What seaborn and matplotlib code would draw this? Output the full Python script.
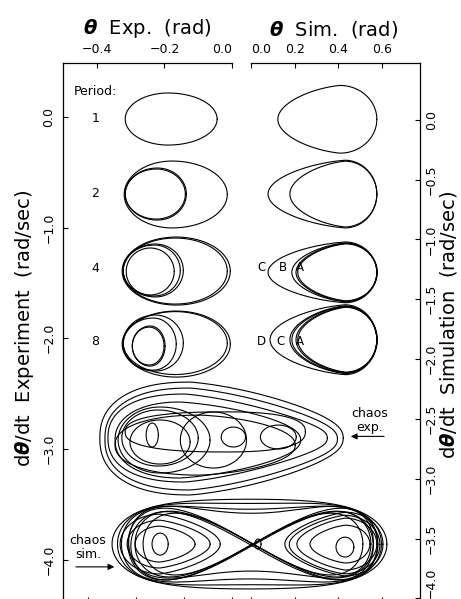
import numpy as np
import matplotlib
matplotlib.use("Agg")
import matplotlib.pyplot as plt
import seaborn as sns

sns.set_theme(style="white")
plt.rcParams["font.family"] = ["DejaVu Sans"]
plt.rcParams["mathtext.fontset"] = "dejavusans"
for k in ("text.color", "axes.labelcolor", "xtick.color", "ytick.color", "axes.edgecolor"):
    plt.rcParams[k] = "black"

# ---------------- data ----------------
# axis ticks
exp_xticks = [-0.4, -0.2, 0.0]
exp_xlabels = ["\u22120.4", "\u22120.2", "0.0"]
exp_bottom_ticks = [-0.426, -0.284, -0.142, 0.0]
exp_yticks = [0.0, -1.0, -2.0, -3.0, -4.0]
exp_ylabels = ["0.0", "\u22121.0", "\u22122.0", "\u22123.0", "\u22124.0"]
sim_xticks = [0.0, 0.2, 0.4, 0.6]
sim_xlabels = ["0.0", "0.2", "0.4", "0.6"]
sim_yticks = [0.0, -0.5, -1.0, -1.5, -2.0, -2.5, -3.0, -3.5, -4.0]
sim_ylabels = ["0.0", "\u22120.5", "\u22121.0", "\u22121.5", "\u22122.0",
               "\u22122.5", "\u22123.0", "\u22123.5", "\u22124.0"]

# periodic orbits, experiment (theta centre, omega centre, left/right half-width, half-height)
exp_cx = [-0.189, -0.177, -0.221, -0.224, -0.165, -0.168, -0.227, -0.230, -0.242,
          -0.165, -0.168, -0.227, -0.233, -0.242, -0.245]
exp_cy = [-0.021, -0.702, -0.698, -0.698, -1.393, -1.393, -1.388, -1.388, -1.397,
          -2.052, -2.043, -2.043, -2.052, -2.070, -2.070]
exp_aL = [0.127, 0.142, 0.095, 0.092, 0.160, 0.154, 0.095, 0.092, 0.071,
          0.160, 0.154, 0.095, 0.089, 0.053, 0.050]
exp_aR = [0.145, 0.163, 0.086, 0.086, 0.160, 0.154, 0.083, 0.077, 0.071,
          0.160, 0.154, 0.083, 0.068, 0.044, 0.044]
exp_b = [0.235, 0.302, 0.235, 0.226, 0.307, 0.298, 0.239, 0.230, 0.212,
         0.298, 0.284, 0.253, 0.235, 0.181, 0.171]

# periodic orbits, simulation
sim_cx = [0.407, 0.430, 0.430, 0.430, 0.430, 0.430, 0.432,
          0.430, 0.430, 0.430, 0.430, 0.432]
sim_cy = [0.004, -0.621, -0.621, -1.275, -1.275, -1.275, -1.275,
          -1.838, -1.838, -1.838, -1.838, -1.838]
sim_aL = [0.284, 0.352, 0.252, 0.352, 0.243, 0.224, 0.218,
          0.343, 0.252, 0.243, 0.224, 0.218]
sim_aR = [0.169, 0.146, 0.146, 0.146, 0.146, 0.146, 0.146,
          0.146, 0.146, 0.146, 0.146, 0.146]
sim_b = [0.283, 0.283, 0.275, 0.254, 0.246, 0.242, 0.238,
         0.292, 0.283, 0.279, 0.275, 0.271]

# chaotic orbit, experiment
cexp_cx = [-0.124, -0.124, -0.139, -0.153, -0.213, -0.219, -0.213, -0.055, 0.004,
           0.137, -0.236, -0.020, -0.094]
cexp_cy = [-2.900, -2.909, -2.900, -2.918, -2.918, -2.900, -2.936, -2.918, -2.891,
           -2.891, -2.873, -2.845, -2.964]
cexp_aL = [0.267, 0.252, 0.228, 0.193, 0.124, 0.107, 0.089, 0.098, 0.036,
           0.053, 0.018, 0.296, 0.252]
cexp_aR = [0.453, 0.436, 0.421, 0.356, 0.148, 0.119, 0.089, 0.098, 0.036,
           0.053, 0.018, 0.237, 0.281]
cexp_bT = [0.505, 0.460, 0.397, 0.343, 0.298, 0.253, 0.199, 0.253, 0.090,
           0.108, 0.108, 0.181, 0.271]
cexp_bB = [0.514, 0.460, 0.397, 0.343, 0.298, 0.253, 0.199, 0.253, 0.090,
           0.108, 0.108, 0.181, 0.271]
cexp_pR = [0.40, 0.45, 0.50, 0.30, 0.0, 0.0, 0.0, 0.0, 0.0, 0.0, 0.0, 0.0, 0.2]
cexp_e = [0.85, 0.85, 0.85, 0.9, 1.0, 1.0, 1.0, 1.0, 1.0, 1.0, 1.0, 0.8, 0.9]

# chaotic orbit, simulation: outer peanut loops, crossing figure-eights, lobe loops
csim_pk_cx = [-0.007, -0.007, -0.007, 0.000]
csim_pk_cy = [-3.546, -3.546, -3.546, -3.530]
csim_pk_a = [0.629, 0.604, 0.586, 0.560]
csim_pk_b = [0.375, 0.342, 0.317, 0.300]
csim_pk_w = [0.75, 0.62, 0.50, 0.40]

csim_f8_cx = [0.009, 0.009, 0.009, 0.005]
csim_f8_cy = [-3.546, -3.546, -3.546, -3.560]
csim_f8_a = [0.572, 0.540, 0.503, 0.555]
csim_f8_b = [0.300, 0.275, 0.258, 0.285]

csim_lb_cx = [-0.416, -0.416, -0.416, 0.430, 0.430, 0.430, 0.425, -0.416, 0.430, 0.032]
csim_lb_cy = [-3.546, -3.546, -3.546, -3.546, -3.546, -3.546, -3.550, -3.546, -3.571, -3.546]
csim_lb_aL = [0.183, 0.151, 0.114, 0.275, 0.220, 0.160, 0.250, 0.037, 0.041, 0.014]
csim_lb_aR = [0.275, 0.229, 0.160, 0.174, 0.146, 0.114, 0.165, 0.037, 0.041, 0.014]
csim_lb_b = [0.250, 0.200, 0.150, 0.267, 0.217, 0.158, 0.245, 0.092, 0.083, 0.042]
csim_lb_pL = [0.0, 0.0, 0.0, 0.30, 0.30, 0.25, 0.30, 0.0, 0.0, 0.0]
csim_lb_pR = [0.30, 0.30, 0.25, 0.0, 0.0, 0.0, 0.0, 0.0, 0.0, 0.0]

# labels
period_labels = ["1", "2", "4", "8"]
period_y = [-0.013, -0.689, -1.366, -2.033]
abc_labels = ["C", "B", "A", "D", "C", "A"]
abc_x = [0.050, 0.146, 0.224, 0.050, 0.133, 0.224]
abc_y = [-1.238, -1.238, -1.238, -1.854, -1.854, -1.854]

# ---------------- shapes ----------------
T = np.linspace(0, 2 * np.pi, 400)


def egg(cx, cy, aL, aR, bT, bB, pL=0.0, pR=0.0, e=1.0):
    c, s = np.cos(T), np.sin(T)
    ce = np.sign(c) * np.abs(c) ** e
    se = np.sign(s) * np.abs(s) ** e
    x = cx + np.where(c >= 0, aR, aL) * ce
    pinch = 1 - pR * np.clip(c, 0, None) - pL * np.clip(-c, 0, None)
    y = cy + np.where(s >= 0, bT, bB) * se * pinch
    return x, y


def peanut(cx, cy, a, b, w):
    yy = np.sin(T) * (w + (1 - w) * np.cos(T) ** 2)
    return cx + a * np.cos(T), cy + b * yy / np.abs(yy).max()


def fig8(cx, cy, a, b):
    return cx + a * np.cos(T), cy + b * np.sin(2 * T)


def draw(ax, xy, lw=0.8):
    sns.lineplot(x=xy[0], y=xy[1], sort=False, estimator=None, ax=ax,
                 color="black", lw=lw, clip_on=False)


# ---------------- figure ----------------
W, H = 461, 599
fig = plt.figure(figsize=(W / 100, H / 100), dpi=100)
top_f = 1 - 62.7 / H
bot_f = (H - 602) / H
axL = fig.add_axes([63 / W, bot_f, 169 / W, top_f - bot_f])
axR = fig.add_axes([251 / W, bot_f, 169 / W, top_f - bot_f])
for ax in (axL, axR):
    ax.set_facecolor("none")

for i in range(len(exp_cx)):
    draw(axL, egg(exp_cx[i], exp_cy[i], exp_aL[i], exp_aR[i], exp_b[i], exp_b[i]))
for i in range(len(sim_cx)):
    draw(axR, egg(sim_cx[i], sim_cy[i], sim_aL[i], sim_aR[i], sim_b[i], sim_b[i], pL=0.18))
for i in range(len(cexp_cx)):
    draw(axL, egg(cexp_cx[i], cexp_cy[i], cexp_aL[i], cexp_aR[i], cexp_bT[i],
                  cexp_bB[i], pR=cexp_pR[i], e=cexp_e[i]))
for i in range(len(csim_pk_cx)):
    draw(axR, peanut(csim_pk_cx[i], csim_pk_cy[i], csim_pk_a[i], csim_pk_b[i], csim_pk_w[i]))
for i in range(len(csim_f8_cx)):
    draw(axR, fig8(csim_f8_cx[i], csim_f8_cy[i], csim_f8_a[i], csim_f8_b[i]))
for i in range(len(csim_lb_cx)):
    draw(axR, egg(csim_lb_cx[i], csim_lb_cy[i], csim_lb_aL[i], csim_lb_aR[i],
                  csim_lb_b[i], csim_lb_b[i], pL=csim_lb_pL[i], pR=csim_lb_pR[i]))

# axes limits / ticks
axL.set_xlim(-0.5, 0.0)
axL.set_ylim(-4.380, 0.4874)
axR.set_xlim(0.0, 0.7735)
axR.set_ylim(-4.03, 0.477)

tk = dict(direction="in", length=3.6, width=0.8, colors="black", labelsize=9)
for ax in (axL, axR):
    ax.xaxis.tick_top()
    ax.spines["bottom"].set_visible(False)
    ax.set_xlabel("")
    ax.set_ylabel("")
axL.spines["right"].set_visible(False)
axR.spines["left"].set_visible(False)
for ax in (axL, axR):
    for sp in ax.spines.values():
        sp.set_color("black")
        sp.set_linewidth(0.9)

axL.set_xticks(exp_xticks)
axL.set_xticklabels(exp_xlabels)
axL.set_yticks(exp_yticks)
axL.set_yticklabels(exp_ylabels, rotation=90, va="center")
axL.tick_params(axis="x", pad=5, **tk)
axL.tick_params(axis="y", pad=5.5, left=True, right=False, **tk)

axR.yaxis.tick_right()
axR.set_xticks(sim_xticks)
axR.set_xticklabels(sim_xlabels)
axR.set_yticks(sim_yticks)
axR.set_yticklabels(sim_ylabels, rotation=90, va="center")
axR.tick_params(axis="x", pad=5, **tk)
axR.tick_params(axis="y", pad=3.6, left=False, right=True, **tk)

axL.xaxis.get_major_ticks()[-1].label2.set_ha("right")
axR.xaxis.get_major_ticks()[0].label2.set_ha("left")
axR.yaxis.get_major_ticks()[-1].label2.set_va("bottom")

secL = axL.secondary_xaxis("bottom")
secL.set_xticks(exp_bottom_ticks)
secL.tick_params(direction="in", length=3.6, width=0.8, labelbottom=False)
secL.spines["bottom"].set_visible(False)
secR = axR.secondary_xaxis("bottom")
secR.set_xticks(sim_xticks)
secR.tick_params(direction="in", length=3.6, width=0.8, labelbottom=False)
secR.spines["bottom"].set_visible(False)

# texts
fig.text(147 / W, 1 - 29 / H, r"$\boldsymbol{\theta}$  Exp.  (rad)", ha="center",
         va="center", fontsize=14)
fig.text(334 / W, 1 - 29 / H, r"$\boldsymbol{\theta}$  Sim.  (rad)", ha="center",
         va="center", fontsize=14)
fig.text(25 / W, 1 - 328 / H, r"d$\boldsymbol{\theta}$/dt  Experiment  (rad/sec)",
         rotation=90, ha="center", va="center", fontsize=14)
fig.text(448 / W, 1 - 325 / H, r"d$\boldsymbol{\theta}$/dt  Simulation  (rad/sec)",
         rotation=90, ha="center", va="center", fontsize=14)

axL.text(-0.405, 0.223, "Period:", ha="center", va="center", fontsize=9)
for lab, yy in zip(period_labels, period_y):
    axL.text(-0.405, yy, lab, ha="center", va="center", fontsize=9)
for lab, xx, yy in zip(abc_labels, abc_x, abc_y):
    axR.text(xx, yy, lab, ha="center", va="center", fontsize=8.5)

axR.text(0.545, -2.517, "chaos\nexp.", ha="center", va="center", fontsize=9,
         linespacing=1.1)
axR.annotate("", xy=(0.444, -2.646), xytext=(0.622, -2.646),
             arrowprops=dict(arrowstyle="-|>", color="black", lw=0.8,
                             mutation_scale=9), annotation_clip=False)
axL.text(-0.426, -3.888, "chaos\nsim.", ha="center", va="center", fontsize=9,
         linespacing=1.1)
axL.annotate("", xy=(-0.340, -4.063), xytext=(-0.470, -4.063),
             arrowprops=dict(arrowstyle="-|>", color="black", lw=0.8,
                             mutation_scale=9), annotation_clip=False)

fig.savefig("out.png", dpi=100)
